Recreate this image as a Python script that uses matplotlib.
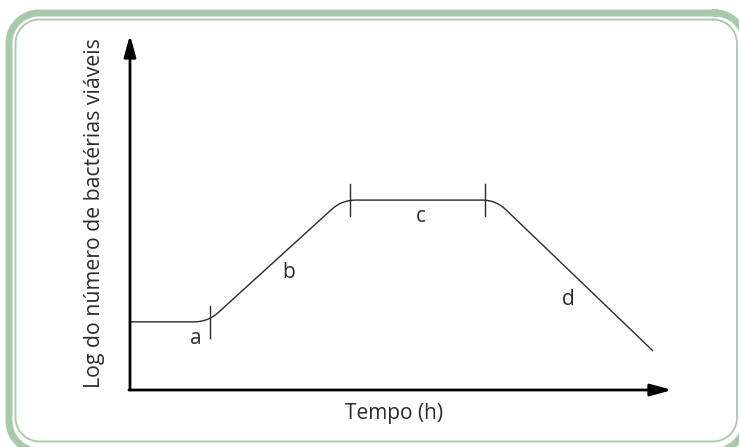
import matplotlib
matplotlib.use("Agg")
import matplotlib.pyplot as plt
from matplotlib.patches import ArrowStyle
import numpy as np

# ---- data (schematic units: time 0-100, log count 0-100) ----
time_pts = [0, 14.4, 39.1, 67.5, 96.5]
log_pts = [19.2, 19.2, 53.5, 53.5, 11.0]
phase_bounds_x = [14.8, 40.6, 65.5]
phase_bounds_y = [19.2, 53.5, 53.5]
phase_labels = ["a", "b", "c", "d"]
label_x = [12.2, 29.3, 53.7, 80.8]
label_y = [14.4, 33.2, 49.0, 25.4]
x_title = "Tempo (h)"
y_title = "Log do número de bactérias viáveis"

W, H = 739, 447
fig = plt.figure(figsize=(W / 100, H / 100), dpi=100)
fig.patch.set_facecolor("white")
plt.rcParams["font.family"] = ["Open Sans", "DejaVu Sans"]

green = "#a9c9ab"
bg = fig.add_axes([0, 0, 1, 1])
bg.set_xlim(0, W)
bg.set_ylim(H, 0)
bg.axis("off")


def rounded_rect(left, top, right, bottom, r, n=30):
    xs, ys = [], []
    corners = [(right - r, top + r, -90, 0), (right - r, bottom - r, 0, 90),
               (left + r, bottom - r, 90, 180), (left + r, top + r, 180, 270)]
    for cx, cy, a0, a1 in corners:
        ang = np.radians(np.linspace(a0, a1, n))
        xs.extend(cx + r * np.cos(ang))
        ys.extend(cy + r * np.sin(ang))
    xs.append(xs[0])
    ys.append(ys[0])
    return xs, ys


ox, oy = rounded_rect(9, 13, 745, 451, 30)
bg.plot(ox, oy, color=green, lw=5.0, clip_on=False, solid_joinstyle="round")
ix, iy = rounded_rect(15.5, 19.5, 737, 441.5, 24)
bg.plot(ix, iy, color=green, lw=1.3, clip_on=False)

# axes placed on the arrow area
x0, y0, x1, y1 = 130, 390, 672, 35
ax = fig.add_axes([x0 / W, (H - y0) / H, (x1 - x0) / W, (y0 - y1) / H])
ax.set_xlim(0, 100)
ax.set_ylim(0, 100)
ax.axis("off")
ax.patch.set_alpha(0)

# rounded curve built in display space
fig.canvas.draw()
pts = ax.transData.transform(np.column_stack([time_pts, log_pts]))
r = 14.0
path = [pts[0]]
for i in range(1, len(pts) - 1):
    p_prev, p, p_next = pts[i - 1], pts[i], pts[i + 1]
    d1 = (p - p_prev) / np.linalg.norm(p - p_prev)
    d2 = (p_next - p) / np.linalg.norm(p_next - p)
    a = p - d1 * r
    b = p + d2 * r
    t = np.linspace(0, 1, 20)[:, None]
    curve = (1 - t) ** 2 * a + 2 * (1 - t) * t * p + t ** 2 * b
    path.extend(curve)
path.append(pts[-1])
path = ax.transData.inverted().transform(np.array(path))
ax.plot(path[:, 0], path[:, 1], color="#2a2a2a", lw=1.0, solid_capstyle="butt",
        clip_on=False)

# phase boundary ticks
for bx, by in zip(phase_bounds_x, phase_bounds_y):
    ax.plot([bx, bx], [by - 4.5, by + 4.5], color="#2a2a2a", lw=1.0, clip_on=False)

for lx, ly, lab in zip(label_x, label_y, phase_labels):
    ax.text(lx, ly, lab, ha="center", va="center", fontsize=15, color="#2b2b2b")

# axis arrows
style = ArrowStyle("-|>", head_length=13, head_width=3.6)
ax.annotate("", xy=(0, 100), xytext=(0, 0),
            arrowprops=dict(arrowstyle=style, mutation_scale=1, lw=2.0, color="black",
                            shrinkA=0, shrinkB=0), annotation_clip=False)
ax.annotate("", xy=(100, 0), xytext=(-0.2, 0),
            arrowprops=dict(arrowstyle=style, mutation_scale=1, lw=2.0, color="black",
                            shrinkA=0, shrinkB=0), annotation_clip=False)

fig.text(394 / W, 1 - 413 / H, x_title, ha="center", va="center",
         fontsize=15, color="#2b2b2b")
fig.text(95 / W, 1 - 213 / H, y_title, ha="center", va="center", rotation=90,
         fontsize=15.3, color="#2b2b2b")

fig.savefig("out.png", dpi=100, facecolor="white")
